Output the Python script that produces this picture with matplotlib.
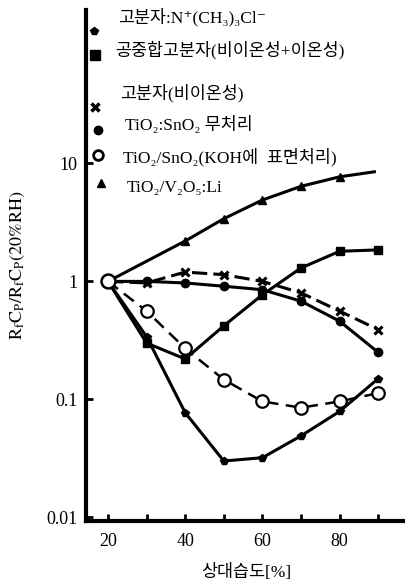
import matplotlib.pyplot as plt
from matplotlib.lines import Line2D

plt.rcParams['font.family'] = ['Liberation Serif', 'DejaVu Serif', 'Noto Sans CJK KR']
plt.rcParams['mathtext.fontset'] = 'stix'

# series values (x = relative humidity %, y = ratio)
x_quat = [20, 30, 40, 50, 60, 70, 80, 90]
y_quat = [1.0, 0.34, 0.077, 0.030, 0.032, 0.049, 0.079, 0.15]

x_copoly = [20, 30, 40, 50, 60, 70, 80, 90]
y_copoly = [1.0, 0.30, 0.22, 0.42, 0.77, 1.30, 1.80, 1.85]

x_nonion = [20, 30, 40, 50, 60, 70, 80, 90]
y_nonion = [1.0, 0.97, 1.2, 1.14, 1.0, 0.80, 0.56, 0.39]

x_sno2 = [20, 30, 40, 50, 60, 70, 80, 90]
y_sno2 = [1.0, 1.0, 0.97, 0.91, 0.85, 0.68, 0.46, 0.25]

x_koh = [20, 30, 40, 50, 60, 70, 80, 90]
y_koh = [1.0, 0.56, 0.27, 0.147, 0.096, 0.085, 0.096, 0.113]

x_v2o5 = [20, 40, 50, 60, 70, 80, 89]
y_v2o5 = [1.0, 2.2, 3.4, 4.9, 6.4, 7.7, 8.5]

labels = ['고분자:N⁺(CH₃)₃Cl⁻',
          '공중합고분자(비이온성+이온성)',
          '고분자(비이온성)',
          'TiO₂:SnO₂ 무처리',
          'TiO₂/SnO₂(KOH에  표면처리)',
          'TiO₂/V₂O₅:Li']

fig = plt.figure(figsize=(4.06, 5.84), dpi=100)
ax = fig.add_axes([86 / 406, 63 / 584, 320 / 406, 511 / 584])

lw = 2.2
ax.plot(x_quat, y_quat, '-', color='black', lw=lw, marker='p', ms=6)
ax.plot(x_copoly, y_copoly, '-', color='black', lw=lw, marker='s', ms=6)
ax.plot(x_nonion, y_nonion, color='black', lw=lw, ls=(0, (5, 2)), marker='x', ms=6, mew=2.2)
ax.plot(x_sno2, y_sno2, '-', color='black', lw=lw, marker='o', ms=6)
ax.plot(x_koh, y_koh, color='black', lw=1.8, ls=(0, (5, 3)), marker='o', ms=9,
        mfc='white', mew=1.6)
ax.plot(x_v2o5, y_v2o5, '-', color='black', lw=lw, marker='^', ms=6, markevery=[1, 2, 3, 4, 5])
# start point open circle
ax.plot([x_koh[0]], [y_koh[0]], 'o', color='black', ms=10, mfc='white', mew=1.8, zorder=5)

ax.set_yscale('log')
ax.set_xlim(14.3, 97.2)
ax.set_ylim(0.0093, 200)
ax.set_xticks([20, 30, 40, 50, 60, 70, 80, 90])
ax.set_xticklabels(['20', '', '40', '', '60', '', '80', ''])
ax.set_yticks([0.01, 0.1, 1, 10])
ax.set_yticklabels(['0.01', '0.1', '1', '10'])
ax.minorticks_off()
ax.tick_params(direction='in', length=5, width=2, labelsize=13, pad=6)
ax.tick_params(axis='x', pad=9)
for s in ['top', 'right']:
    ax.spines[s].set_visible(False)
for s in ['left', 'bottom']:
    ax.spines[s].set_linewidth(3)

ax.set_xlabel('상대습도[%]', fontsize=12.5, labelpad=10)
ax.set_ylabel(r'$\mathrm{R_fC_P/R_fC_P(20\%RH)}$', fontsize=13, labelpad=14)

# hand-placed legend (axes fractions)
def fx(px):
    return (px - 86) / 320

def fy(py):
    return (521 - py) / 511

mk = [dict(marker='p', ms=6), dict(marker='s', ms=7), dict(marker='x', ms=6, mew=2.5),
      dict(marker='o', ms=6), dict(marker='o', ms=7, mfc='white', mew=2), dict(marker='^', ms=6)]
mk_pos = [(94, 31), (95, 55), (95, 107), (98, 130), (98, 155), (101, 183)]
txt_pos = [(118, 17), (115, 50), (120, 93), (125, 125), (123, 157), (127, 188)]
for lab, m, (mx, my), (tx, ty) in zip(labels, mk, mk_pos, txt_pos):
    ax.add_line(Line2D([fx(mx)], [fy(my)], transform=ax.transAxes, color='black',
                       ls='none', clip_on=False, **m))
    ax.text(fx(tx), fy(ty), lab, transform=ax.transAxes, fontsize=12.5, va='center', ha='left')

fig.savefig('out.png', dpi=100)
